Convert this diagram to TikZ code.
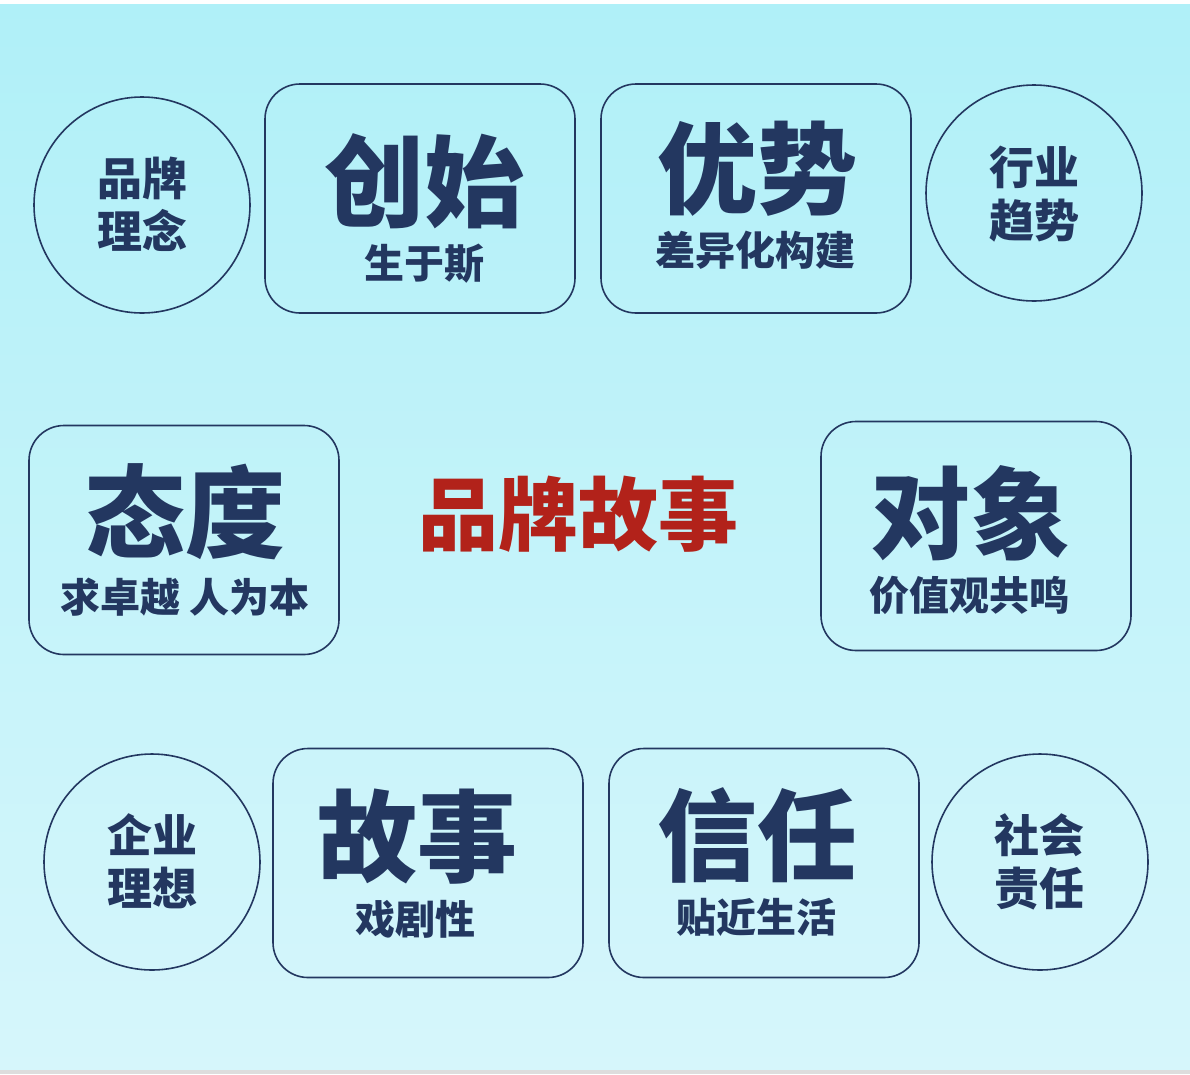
\documentclass[tikz,border=0pt]{standalone}
\usepackage{fontspec}
\IfFontExistsTF{Noto Sans CJK SC Black}
  {\newfontfamily\cjk{Noto Sans CJK SC Black}\newcommand\cjkwt{}}
  {\newfontfamily\cjk{Noto Sans CJK SC}[BoldFeatures={FakeBold=1}]\newcommand\cjkwt{\bfseries}}
\definecolor{navy}{RGB}{35,55,96}
\definecolor{brandred}{RGB}{178,34,26}
\definecolor{bgtop}{RGB}{176,240,248}
\definecolor{bgbot}{RGB}{214,246,251}
\definecolor{strip}{RGB}{221,221,221}
\tikzset{
  roundbox/.style={draw=navy, line width=1.6pt, rounded corners=35pt, minimum width=310pt, minimum height=229pt, inner sep=0pt},
  ringnode/.style={draw=navy, line width=1.6pt, circle, minimum size=216pt, inner sep=0pt},
  txt/.style={inner sep=0pt, text=navy},
  bigtxt/.style={txt, text height=83pt, text depth=7pt, font=\cjk\cjkwt\fontsize{100}{100}\selectfont},
  subtxt/.style={txt, text height=33.2pt, text depth=2.8pt, font=\cjk\cjkwt\fontsize{40}{40}\selectfont},
  circtxt/.style={txt, text height=37.35pt, text depth=3.15pt, font=\cjk\cjkwt\fontsize{45}{45}\selectfont},
  centertxt/.style={txt, text=brandred, text height=66.4pt, text depth=5.6pt, font=\cjk\cjkwt\fontsize{80}{80}\selectfont}
}
\begin{document}
\begin{tikzpicture}[x=1pt,y=-1pt]
\useasboundingbox (0,0) rectangle (1190,1074);
\fill[white] (0,0) rectangle (1190,4);
\shade[top color=bgtop, bottom color=bgbot] (0,4) rectangle (1190,1070);
\fill[strip] (0,1070) rectangle (1190,1074);

% circles
\node[ringnode] (c1) at (142,205) {};
\node[ringnode] (c2) at (1034,193) {};
\node[ringnode] (c3) at (152,862) {};
\node[ringnode] (c4) at (1040,862) {};

% boxes
\node[roundbox] (b1) at (420,198.5) {};
\node[roundbox] (b2) at (756,198.5) {};
\node[roundbox] (b3) at (184,540) {};
\node[roundbox] (b4) at (976,536) {};
\node[roundbox] (b5) at (428,863) {};
\node[roundbox] (b6) at (764,863) {};

% circle texts
\node[circtxt] (c1a) at (142,178) {品牌};
\node[circtxt] (c1b) at (142,231) {理念};
\node[circtxt] (c2a) at (1034,167) {行业};
\node[circtxt] (c2b) at (1034,220) {趋势};
\node[circtxt] (c3a) at (152,835) {企业};
\node[circtxt] (c3b) at (152,888) {理想};
\node[circtxt] (c4a) at (1039,835) {社会};
\node[circtxt] (c4b) at (1039,888) {责任};

% box texts
\node[bigtxt] (b1a) at (424,181) {创始};
\node[subtxt] (b1b) at (424,263) {生于斯};
\node[bigtxt] (b2a) at (757,168) {优势};
\node[subtxt] (b2b) at (755,250) {差异化构建};
\node[bigtxt] (b3a) at (185,512) {态度};
\node[subtxt] (b3b) at (185,597) {求卓越 人为本};
\node[bigtxt] (b4a) at (970,513) {对象};
\node[subtxt] (b4b) at (969,595) {价值观共鸣};
\node[bigtxt] (b5a) at (417,836) {故事};
\node[subtxt] (b5b) at (415,919) {戏剧性};
\node[bigtxt] (b6a) at (757,835) {信任};
\node[subtxt] (b6b) at (756,917) {贴近生活};

% centre title
\node[centertxt] (title) at (578,514) {品牌故事};
\end{tikzpicture}
\end{document}
